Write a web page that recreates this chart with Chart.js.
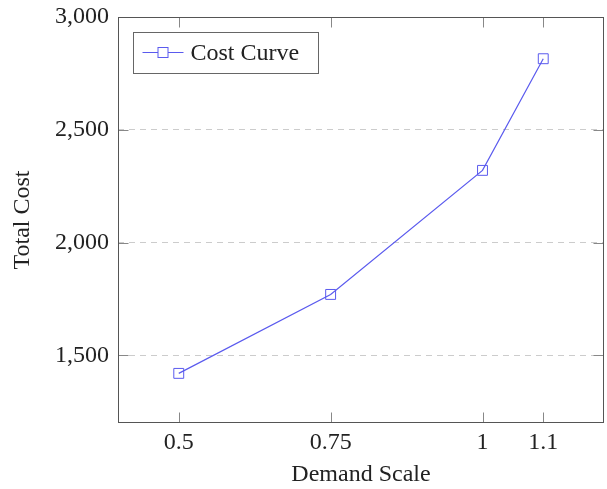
<!DOCTYPE html>
<html><head><meta charset="utf-8">
<script src="https://cdn.jsdelivr.net/npm/chart.js@4"></script>
<style>html,body{margin:0;padding:0;background:#fff}#wrap{width:607px;height:489px}</style>
</head><body><div id="wrap"><canvas id="c" width="607" height="489"></canvas></div>
<script>
const demandScale = [0.5, 0.75, 1, 1.1];
const totalCost = [1420, 1770, 2320, 2815];
const xTickValues = [0.5, 0.75, 1, 1.1];
const yTickValues = [1500, 2000, 2500, 3000];
const seriesLabel = 'Cost Curve';
const xTitle = 'Demand Scale';
const yTitle = 'Total Cost';

const FONT = "'Liberation Serif', 'Times New Roman', serif";
const TEXT = '#222';
const BLUE = '#5a5aee';

function zeroPad(s) { s.paddingLeft = 0; s.paddingRight = 0; s.paddingTop = 0; s.paddingBottom = 0; }

const framePlugin = {
  id: 'frame',
  afterDraw(chart) {
    const {ctx, chartArea: a, scales} = chart;
    ctx.save();
    const L = Math.round(a.left) + 0.5, R = Math.round(a.right) - 0.5;
    const T = Math.round(a.top) + 0.5, B = Math.round(a.bottom) - 0.5;
    ctx.strokeStyle = '#888';
    ctx.lineWidth = 1;
    const tl = 10;
    ctx.beginPath();
    xTickValues.forEach(v => {
      const x = Math.round(scales.x.getPixelForValue(v)) + 0.5;
      ctx.moveTo(x, B); ctx.lineTo(x, B - tl);
      ctx.moveTo(x, T); ctx.lineTo(x, T + tl);
    });
    yTickValues.forEach(v => {
      const y = Math.round(scales.y.getPixelForValue(v)) + 0.5;
      ctx.moveTo(L, y); ctx.lineTo(L + tl, y);
      ctx.moveTo(R, y); ctx.lineTo(R - tl, y);
    });
    ctx.stroke();
    ctx.strokeStyle = '#555';
    ctx.strokeRect(L, T, R - L, B - T);

    // legend
    const bx = L + 15, by = T + 15, bw = 185, bh = 41;
    ctx.fillStyle = '#fff';
    ctx.fillRect(bx, by, bw, bh);
    ctx.strokeStyle = '#666';
    ctx.strokeRect(bx, by, bw, bh);
    const ly = by + 20;
    ctx.strokeStyle = BLUE;
    ctx.beginPath();
    ctx.moveTo(bx + 9, ly); ctx.lineTo(bx + 50, ly);
    ctx.stroke();
    ctx.fillStyle = '#fff';
    ctx.fillRect(bx + 24.5, ly - 5, 10, 10);
    ctx.strokeRect(bx + 24.5, ly - 5, 10, 10);
    ctx.fillStyle = TEXT;
    ctx.font = "24px " + FONT;
    ctx.textBaseline = 'alphabetic';
    ctx.textAlign = 'left';
    ctx.fillText(chart.data.datasets[0].label, bx + 57, by + 27);
    ctx.restore();
  }
};

new Chart(document.getElementById('c'), {
  type: 'line',
  data: {
    datasets: [{
      label: seriesLabel,
      data: demandScale.map((x, i) => ({x: x, y: totalCost[i]})),
      borderColor: BLUE,
      borderWidth: 1.2,
      backgroundColor: 'rgba(255,255,255,0)',
      pointStyle: 'rect',
      pointRadius: 7,
      pointBorderWidth: 1,
      pointBorderColor: BLUE,
      pointBackgroundColor: 'rgba(255,255,255,0)',
      tension: 0,
      fill: false
    }]
  },
  options: {
    responsive: false,
    animation: false,
    devicePixelRatio: 1,
    layout: {autoPadding: false, padding: {top: 17, right: 3, left: 0, bottom: 0}},
    plugins: {legend: {display: false}, tooltip: {enabled: false}},
    scales: {
      x: {
        type: 'linear',
        min: 0.4, max: 1.2,
        afterBuildTicks: s => { s.ticks = xTickValues.map(v => ({value: v})); },
        afterFit: s => { s.height = 66; zeroPad(s); },
        grid: {display: false, drawTicks: false},
        border: {display: false},
        ticks: {
          padding: 5,
          color: TEXT,
          font: {family: FONT, size: 24},
          callback: v => String(v),
          maxRotation: 0, autoSkip: false
        },
        title: {display: true, text: xTitle, color: TEXT, font: {family: FONT, size: 24}, padding: {top: 0, bottom: 0}}
      },
      y: {
        type: 'linear',
        min: 1200, max: 3000,
        afterBuildTicks: s => { s.ticks = yTickValues.map(v => ({value: v})); },
        afterFit: s => { s.width = 118; zeroPad(s); },
        grid: {color: '#cccccc', lineWidth: 1, drawTicks: false},
        border: {display: false, dash: [6, 5]},
        ticks: {
          padding: 9,
          color: TEXT,
          font: {family: FONT, size: 24},
          callback: v => v.toLocaleString('en-US'),
          autoSkip: false
        },
        title: {display: true, text: yTitle, color: TEXT, font: {family: FONT, size: 24}, padding: {top: 8, bottom: 0}}
      }
    }
  },
  plugins: [framePlugin]
});
</script>
</body></html>
